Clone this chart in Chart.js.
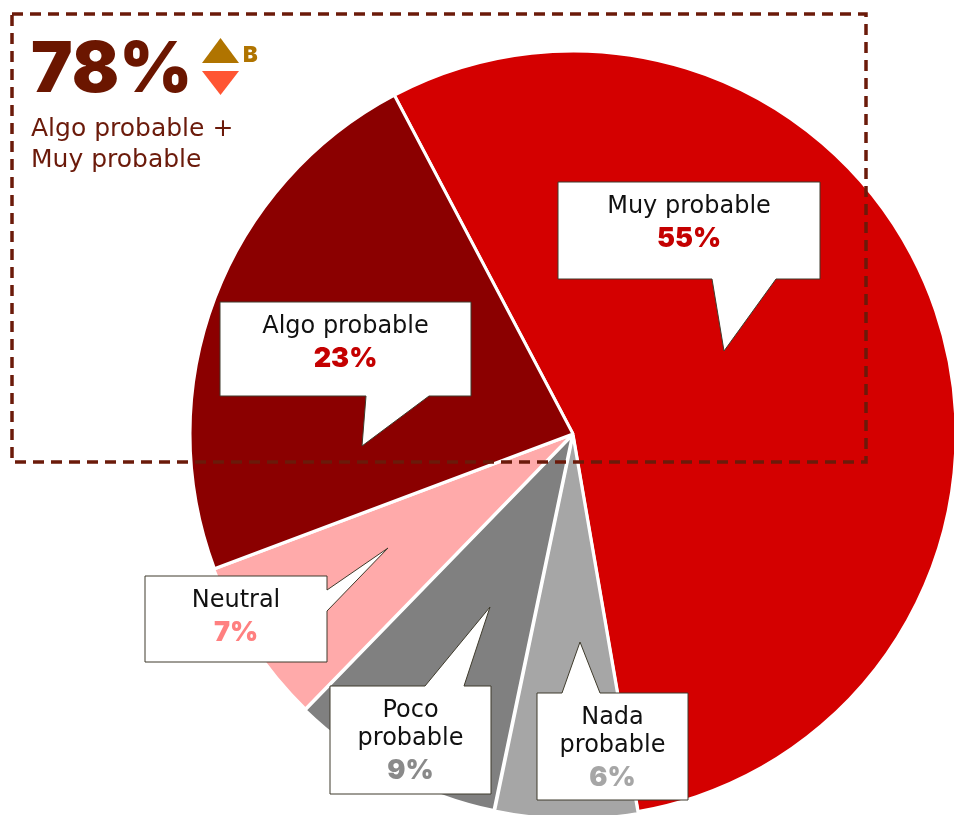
<!DOCTYPE html>
<html lang="es">
  <head>
    <title>Probabilidad</title>
    <meta charset="UTF-8" />
    <meta name="viewport" content="width=device-width" />
    <script src="https://cdn.jsdelivr.net/npm/chart.js"></script>
    <style>
      body { margin: 0; background: #fff; overflow: hidden; }
      #chart { display: block; }
    </style>
  </head>
  <body>
    <canvas id="chart" width="954" height="815"></canvas>

    <script>
      // categorías y porcentajes
      const categories = ['Muy probable', 'Nada probable', 'Poco probable', 'Neutral', 'Algo probable'];
      const shares = [55, 6, 9, 7, 23];

      const sliceColors = ['#d40000', '#a6a6a6', '#808080', '#ffaaaa', '#8b0000'];
      const pctColors = ['#c40000', '#a6a6a6', '#8a8a8a', '#ff8080', '#c40000'];
      const sliceOffsets = [0, 5, 5, 2, 0];

      // cajas de las etiquetas (x1, y1, x2, y2) y la punta del globo
      const callouts = [
        { box: [558, 182, 820, 279], side: 'bottom', base: [712, 776], tip: [724, 351], wrap: false },
        { box: [537, 693, 688, 800], side: 'top', base: [562, 600], tip: [580, 642], wrap: true },
        { box: [330, 686, 491, 794], side: 'top', base: [425, 464], tip: [490, 607], wrap: true },
        { box: [145, 576, 327, 662], side: 'right', base: [590, 611], tip: [388, 548], wrap: false },
        { box: [220, 302, 471, 396], side: 'bottom', base: [366, 429], tip: [362, 446], wrap: false },
      ];

      const labelFont = '"DejaVu Sans", sans-serif';
      const heavyFont = 'Inter, "Open Sans", sans-serif';

      function bubblePath(ctx, c) {
        const [x1, y1, x2, y2] = c.box;
        const [a, b] = c.base;
        const [tx, ty] = c.tip;
        ctx.beginPath();
        ctx.moveTo(x1, y1);
        if (c.side === 'top') {
          ctx.lineTo(a, y1);
          ctx.lineTo(tx, ty);
          ctx.lineTo(b, y1);
        }
        ctx.lineTo(x2, y1);
        if (c.side === 'right') {
          ctx.lineTo(x2, a);
          ctx.lineTo(tx, ty);
          ctx.lineTo(x2, b);
        }
        ctx.lineTo(x2, y2);
        if (c.side === 'bottom') {
          ctx.lineTo(b, y2);
          ctx.lineTo(tx, ty);
          ctx.lineTo(a, y2);
        }
        ctx.lineTo(x1, y2);
        ctx.closePath();
      }

      // recuadro punteado + total destacado
      const headerPlugin = {
        id: 'header',
        afterDatasetsDraw(chart) {
          const ctx = chart.ctx;
          ctx.save();
          ctx.strokeStyle = '#6b1a0a';
          ctx.lineWidth = 3.5;
          ctx.setLineDash([11, 7]);
          ctx.strokeRect(12, 14, 854, 448);
          ctx.setLineDash([]);

          const total = shares[categories.indexOf('Algo probable')] + shares[categories.indexOf('Muy probable')];
          ctx.fillStyle = '#6b1600';
          ctx.font = '900 70px ' + heavyFont;
          ctx.textAlign = 'left';
          ctx.textBaseline = 'alphabetic';
          ctx.fillText(total + '%', 31, 92);

          // flechas
          ctx.fillStyle = '#b07400';
          ctx.beginPath();
          ctx.moveTo(202, 63);
          ctx.lineTo(239, 63);
          ctx.lineTo(220.5, 38);
          ctx.closePath();
          ctx.fill();
          ctx.font = '900 22px ' + heavyFont;
          ctx.fillText('B', 243, 62);
          ctx.fillStyle = '#ff5533';
          ctx.beginPath();
          ctx.moveTo(202, 71);
          ctx.lineTo(239, 71);
          ctx.lineTo(220.5, 95);
          ctx.closePath();
          ctx.fill();

          ctx.fillStyle = '#6b1a0a';
          ctx.font = '25px ' + labelFont;
          ctx.textBaseline = 'middle';
          ctx.fillText('Algo probable +', 31, 129);
          ctx.fillText('Muy probable', 31, 160);
          ctx.restore();
        },
      };

      // globos con nombre y porcentaje
      const calloutPlugin = {
        id: 'callouts',
        afterDraw(chart) {
          const ctx = chart.ctx;
          ctx.save();
          callouts.forEach((c, i) => {
            bubblePath(ctx, c);
            ctx.fillStyle = '#fff';
            ctx.fill();
            ctx.strokeStyle = '#3f3b2c';
            ctx.lineWidth = 1;
            ctx.stroke();

            const cx = (c.box[0] + c.box[2]) / 2;
            const lines = c.wrap ? categories[i].split(' ') : [categories[i]];
            let y = c.box[1] + 25;
            ctx.textAlign = 'center';
            ctx.textBaseline = 'middle';
            ctx.fillStyle = '#111';
            ctx.font = '24px ' + labelFont;
            lines.forEach((ln) => {
              ctx.fillText(ln, cx, y);
              y += 28;
            });
            ctx.fillStyle = pctColors[i];
            ctx.font = '900 27px ' + heavyFont;
            ctx.fillText(shares[i] + '%', cx, y + 4);
          });
          ctx.restore();
        },
      };

      const ctx = document.getElementById('chart').getContext('2d');
      const chart = new Chart(ctx, {
        type: 'pie',
        data: {
          labels: categories,
          datasets: [
            {
              data: shares,
              backgroundColor: sliceColors,
              borderColor: '#fff',
              borderWidth: 3,
              offset: sliceOffsets,
            },
          ],
        },
        options: {
          responsive: false,
          animation: false,
          rotation: -27.8,
          radius: 383,
          layout: { padding: { left: 192, top: 53, right: 0, bottom: 0 } },
          plugins: {
            legend: { display: false },
            tooltip: { enabled: false },
          },
        },
        plugins: [headerPlugin, calloutPlugin],
      });
    </script>
  </body>
</html>
